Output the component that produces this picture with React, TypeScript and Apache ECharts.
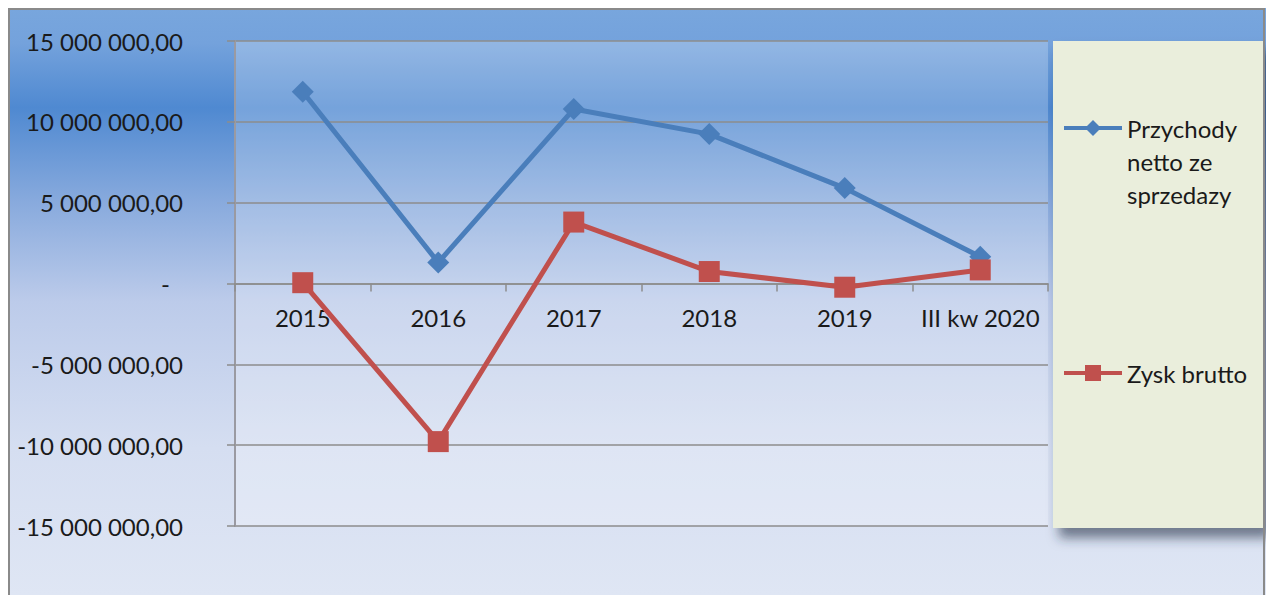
import React, { useEffect, useRef } from "react";
import * as echarts from "echarts";

const categories = ["2015", "2016", "2017", "2018", "2019", "III kw 2020"];
const przychody = [11860000, 1300000, 10790000, 9240000, 5900000, 1650000];
const zysk = [50000, -9780000, 3800000, 740000, -230000, 840000];
const seriesNames = ["Przychody netto ze sprzedazy", "Zysk brutto"];
const yMin = -15000000;
const yMax = 15000000;
const yStep = 5000000;

const FONT = "Lato";

function fmtNum(v: number): string {
  if (v === 0) return "{z|-}";
  const neg = v < 0;
  const s = Math.abs(Math.round(v)).toString();
  const parts: string[] = [];
  for (let i = s.length; i > 0; i -= 3) parts.unshift(s.slice(Math.max(0, i - 3), i));
  return (neg ? "-" : "") + parts.join(" ") + ",00";
}

export default function App() {
  const ref = useRef<HTMLDivElement>(null);
  useEffect(() => {
    if (!ref.current) return;
    const chart = echarts.init(ref.current, undefined, { renderer: "svg" });
    const W = 1258;
    const H = 587;
    const gridTop = 33;
    const gridBottom = 69;
    const gridH = H - gridTop - gridBottom;
    const zeroOffset = -(gridH * (0 - yMin)) / (yMax - yMin);
    chart.setOption({
      animation: false,
      textStyle: { fontFamily: FONT },
      graphic: [
        {
          type: "rect",
          z: -10,
          silent: true,
          shape: { x: 0, y: 0, width: W, height: H },
          style: {
            fill: new echarts.graphic.LinearGradient(0, 0, 0, 1, [
              { offset: 0, color: "#78a6dd" },
              { offset: 0.06, color: "#74a2dc" },
              { offset: 0.17, color: "#4f89d1" },
              { offset: 0.33, color: "#88aadd" },
              { offset: 0.5, color: "#bccbea" },
              { offset: 0.75, color: "#d5def1" },
              { offset: 1, color: "#dfe6f4" },
            ]),
          },
        },
        {
          type: "rect",
          z: 1,
          silent: true,
          shape: { x: 1045, y: 33, width: 212, height: 487 },
          style: {
            fill: "#eaeedc",
            shadowBlur: 12,
            shadowOffsetX: 6,
            shadowOffsetY: 10,
            shadowColor: "rgba(40,50,70,0.6)",
          },
        },
        {
          type: "rect",
          z: 20,
          silent: true,
          shape: { x: 1, y: 1, width: 1255, height: H + 10 },
          style: { fill: "none", stroke: "#8a8a8a", lineWidth: 2 },
        },
      ],
      grid: {
        left: 227,
        top: gridTop,
        right: 218,
        bottom: gridBottom,
        show: true,
        backgroundColor: "rgba(255,255,255,0.22)",
        borderWidth: 0,
      },
      legend: [
        {
          data: [seriesNames[0]],
          orient: "vertical",
          left: 1054,
          top: 37.5,
          padding: 0,
          itemWidth: 58,
          itemHeight: 20,
          lineStyle: { width: 4 },
          formatter: () => "\n\nPrzychody\nnetto ze\nsprzedazy",
          textStyle: { fontSize: 24, color: "#1a1a1a", lineHeight: 33, fontFamily: FONT },
        },
        {
          data: [seriesNames[1]],
          orient: "vertical",
          left: 1054,
          top: 348.5,
          padding: 0,
          itemWidth: 58,
          itemHeight: 20,
          lineStyle: { width: 4 },
          textStyle: { fontSize: 24, color: "#1a1a1a", lineHeight: 33, fontFamily: FONT },
        },
      ],
      xAxis: {
        type: "category",
        data: categories,
        boundaryGap: true,
        position: "bottom",
        offset: zeroOffset,
        axisLine: { onZero: false, lineStyle: { color: "#8c8c8c", width: 1.5 } },
        axisTick: { show: true, length: 8, lineStyle: { color: "#8c8c8c", width: 1.5 } },
        axisLabel: { fontSize: 24, color: "#1a1a1a", margin: 22, interval: 0, fontFamily: FONT },
        splitLine: { show: false },
      },
      yAxis: {
        type: "value",
        min: yMin,
        max: yMax,
        interval: yStep,
        axisLine: { show: true, lineStyle: { color: "#9a9aa2", width: 2 } },
        axisTick: { show: true, length: 8, lineStyle: { color: "#8c8c8c", width: 1.5 } },
        axisLabel: {
          fontSize: 24,
          color: "#1a1a1a",
          margin: 52,
          fontFamily: FONT,
          formatter: (v: number) => fmtNum(v),
          rich: { z: { fontSize: 24, color: "#1a1a1a", padding: [0, 13, 0, 0], fontFamily: FONT } },
        },
        splitLine: { show: true, lineStyle: { color: "#8c8c8c", width: 1.5 } },
      },
      series: [
        {
          name: seriesNames[0],
          type: "line",
          data: przychody,
          symbol: "diamond",
          symbolSize: 22,
          lineStyle: { color: "#4a7ebb", width: 5 },
          itemStyle: { color: "#4a7ebb" },
        },
        {
          name: seriesNames[1],
          type: "line",
          data: zysk,
          symbol: "rect",
          symbolSize: 21,
          lineStyle: { color: "#c0504d", width: 5 },
          itemStyle: { color: "#c0504d" },
        },
      ],
    });
    return () => chart.dispose();
  }, []);
  return (
    <div
      ref={ref}
      style={{ position: "absolute", left: 8, top: 8, width: 1258, height: 587 }}
    />
  );
}
